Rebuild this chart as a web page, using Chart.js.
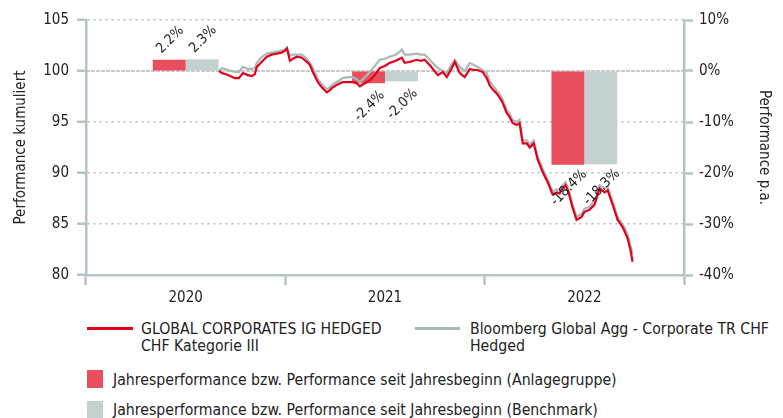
<!DOCTYPE html>
<html>
<head>
<meta charset="utf-8">
<script src="https://cdn.jsdelivr.net/npm/chart.js@4.4.1/dist/chart.umd.min.js"></script>
<style>
  body { margin: 0; background: #fff; font-family: 'DejaVu Sans Condensed', 'Liberation Sans', Arial, sans-serif; color: #222; }
  #wrap { position: relative; width: 783px; height: 418px; overflow: hidden; }
  #chart { position: absolute; left: 0; top: 0; }
  .sw-line { position: absolute; height: 3px; }
  .sw-box { position: absolute; width: 16px; height: 18px; }
  .txt { position: absolute; font-size: 15.7px; line-height: 17px; white-space: nowrap; }
</style>
</head>
<body>
<div id="wrap">
  <canvas id="chart" width="783" height="310"></canvas>

  <div class="sw-line" style="left:87px;top:327px;width:46px;background:#e3001b"></div>
  <div class="txt" style="left:141px;top:320px">GLOBAL CORPORATES IG HEDGED<br>CHF Kategorie III</div>
  <div class="sw-line" style="left:415px;top:327px;width:45px;background:#a9b9b9"></div>
  <div class="txt" style="left:470px;top:320px">Bloomberg Global Agg - Corporate TR CHF<br>Hedged</div>

  <div class="sw-box" style="left:87px;top:370px;background:#e94e5e"></div>
  <div class="txt" style="left:113px;top:371px">Jahresperformance bzw. Performance seit Jahresbeginn (Anlagegruppe)</div>
  <div class="sw-box" style="left:87px;top:401px;background:#c3d0d0"></div>
  <div class="txt" style="left:113px;top:401px">Jahresperformance bzw. Performance seit Jahresbeginn (Benchmark)</div>
</div>

<script>
document.addEventListener('DOMContentLoaded', function () {
    // Years (category labels and bar positions)
    const years = ['2020', '2021', '2022'];
    // Annual performance in %
    const fundYearly = [2.2, -2.4, -18.4];
    const benchYearly = [2.3, -2.0, -18.3];

    // Cumulated performance, time as decimal year
    const lineTime = [
        2020.667, 2020.682, 2020.712, 2020.747, 2020.767, 2020.787, 2020.812, 2020.832, 2020.847, 2020.857,
        2020.882, 2020.907, 2020.932, 2020.957, 2020.982, 2020.998, 2021.008, 2021.023, 2021.038, 2021.058,
        2021.083, 2021.108, 2021.123, 2021.138, 2021.163, 2021.183, 2021.208, 2021.223, 2021.238, 2021.263,
        2021.288, 2021.313, 2021.338, 2021.358, 2021.374, 2021.399, 2021.424, 2021.449, 2021.474, 2021.499,
        2021.524, 2021.554, 2021.574, 2021.584, 2021.599, 2021.624, 2021.659, 2021.679, 2021.699, 2021.724,
        2021.744, 2021.765, 2021.790, 2021.810, 2021.830, 2021.850, 2021.875, 2021.900, 2021.925, 2021.945,
        2021.965, 2021.990, 2022.010, 2022.025, 2022.040, 2022.060, 2022.075, 2022.090, 2022.110, 2022.125,
        2022.140, 2022.160, 2022.175, 2022.191, 2022.211, 2022.226, 2022.246, 2022.266, 2022.291, 2022.316,
        2022.341, 2022.361, 2022.376, 2022.391, 2022.406, 2022.421, 2022.441, 2022.461, 2022.486, 2022.501,
        2022.526, 2022.551, 2022.577, 2022.602, 2022.617, 2022.642, 2022.667, 2022.692, 2022.717, 2022.732,
        2022.742
    ];
    const fundCumulated = [
        100.0, 99.8, 99.6, 99.3, 99.3, 99.8, 99.6, 99.5, 99.7, 100.4,
        100.9, 101.4, 101.6, 101.7, 101.8, 102.0, 102.2, 101.0, 101.2, 101.4,
        101.3, 100.9, 100.6, 99.9, 98.9, 98.4, 97.9, 98.1, 98.4, 98.7,
        98.9, 98.9, 98.9, 98.8, 98.5, 98.8, 99.1, 99.6, 100.3, 100.5,
        100.8, 101.0, 101.2, 101.3, 100.8, 100.9, 101.1, 101.0, 101.1, 100.6,
        100.1, 99.6, 99.9, 99.4, 100.1, 100.9, 99.8, 99.4, 100.2, 100.1,
        100.1, 99.9, 99.3, 98.6, 98.2, 97.8, 97.4, 96.9, 95.9, 95.5,
        94.9, 94.7, 94.9, 92.9, 92.9, 92.5, 92.9, 91.3, 90.1, 89.1,
        87.9, 88.1, 88.0, 88.5, 88.8, 88.1, 86.6, 85.4, 85.7, 86.2,
        86.4, 86.9, 88.5, 88.1, 88.3, 86.9, 85.4, 84.7, 83.6, 82.4,
        81.3
    ];
    const benchCumulated = [
        100.0, 100.3, 100.1, 99.9, 99.9, 100.4, 100.2, 100.2, 100.3, 100.8,
        101.4, 101.7, 101.8, 101.9, 102.0, 102.1, 102.3, 101.5, 101.6, 101.6,
        101.6, 101.2, 100.8, 100.3, 99.2, 98.7, 98.2, 98.4, 98.7, 99.0,
        99.3, 99.4, 99.4, 99.2, 98.9, 99.4, 99.9, 100.5, 101.1, 101.2,
        101.4, 101.6, 101.9, 102.1, 101.6, 101.6, 101.7, 101.6, 101.6, 101.1,
        100.7, 100.3, 100.0, 99.8, 100.5, 101.1, 100.4, 100.0, 100.8, 100.6,
        100.4, 100.1, 99.8, 99.0, 98.6, 98.1, 97.7, 97.2, 96.2, 95.8,
        95.2, 95.0, 95.2, 93.2, 93.2, 92.8, 93.2, 91.6, 90.4, 89.4,
        88.2, 88.4, 88.3, 88.8, 89.1, 88.4, 86.9, 85.7, 86.0, 86.5,
        86.7, 87.3, 88.8, 88.5, 88.6, 87.2, 85.7, 85.0, 84.0, 82.8,
        82.0
    ];

    const axisGrey = '#b3c4c4';
    const gridGrey = '#a9bcbc';
    const fontFamily = "'DejaVu Sans Condensed', 'Liberation Sans', Arial, sans-serif";
    const font = { family: fontFamily, size: 15 };

    const toPoints = (xs, ys) => xs.map((x, i) => ({ x: x, y: ys[i] }));
    // bars sit in the middle of their year on the shared time axis
    const yearPoints = vals => years.map((y, i) => ({ x: Number(y) + 0.5, y: vals[i] }));

    // solid-ish line at 100 / 0%
    const baseLine = {
        id: 'baseLine',
        beforeDatasetsDraw(chart) {
            const { ctx, chartArea, scales } = chart;
            const y = scales.y.getPixelForValue(100);
            ctx.save();
            ctx.strokeStyle = '#b9b9b9';
            ctx.lineWidth = 1.5;
            ctx.setLineDash([4, 1]);
            ctx.beginPath();
            ctx.moveTo(chartArea.left, y);
            ctx.lineTo(chartArea.right, y);
            ctx.stroke();
            ctx.restore();
        }
    };

    // rotated value labels at the bars
    const barLabels = {
        id: 'barLabels',
        afterDatasetsDraw(chart) {
            const ctx = chart.ctx;
            [0, 1].forEach(function (di) {
                const ds = chart.data.datasets[di];
                chart.getDatasetMeta(di).data.forEach(function (bar, j) {
                    const v = ds.data[j].y;
                    const cy = v >= 0 ? bar.y - 20 : bar.y + 23;
                    ctx.save();
                    ctx.translate(bar.x + 1, cy);
                    ctx.rotate(-Math.PI / 4);
                    ctx.font = '14px ' + fontFamily;
                    ctx.fillStyle = '#222';
                    ctx.textAlign = 'center';
                    ctx.textBaseline = 'middle';
                    ctx.fillText(v.toFixed(1) + '%', 0, 0);
                    ctx.restore();
                });
            });
        }
    };

    new Chart(document.getElementById('chart'), {
        type: 'bar',
        data: {
            labels: years,
            datasets: [{
                type: 'bar',
                label: 'Jahresperformance bzw. Performance seit Jahresbeginn (Anlagegruppe)',
                data: yearPoints(fundYearly),
                backgroundColor: '#e94e5e',
                xAxisID: 'x',
                yAxisID: 'y1',
                categoryPercentage: 0.33,
                barPercentage: 1.0,
                order: 3
            }, {
                type: 'bar',
                label: 'Jahresperformance bzw. Performance seit Jahresbeginn (Benchmark)',
                data: yearPoints(benchYearly),
                backgroundColor: '#c3d0d0',
                xAxisID: 'x',
                yAxisID: 'y1',
                categoryPercentage: 0.33,
                barPercentage: 1.0,
                order: 3
            }, {
                type: 'line',
                label: 'Bloomberg Global Agg - Corporate TR CHF Hedged',
                data: toPoints(lineTime, benchCumulated),
                borderColor: '#a9b9b9',
                borderWidth: 2.2,
                pointRadius: 0,
                tension: 0,
                xAxisID: 'x',
                yAxisID: 'y',
                order: 2
            }, {
                type: 'line',
                label: 'GLOBAL CORPORATES IG HEDGED CHF Kategorie III',
                data: toPoints(lineTime, fundCumulated),
                borderColor: '#e3001b',
                borderWidth: 2.2,
                pointRadius: 0,
                tension: 0,
                xAxisID: 'x',
                yAxisID: 'y',
                order: 1
            }]
        },
        options: {
            indexAxis: 'x',
            responsive: false,
            animation: false,
            layout: { padding: { top: 20, left: 0, right: 0, bottom: 0 } },
            plugins: {
                legend: { display: false },
                tooltip: { enabled: false }
            },
            scales: {
                // shared time axis for bars and lines (hidden)
                x: {
                    type: 'linear',
                    min: 2020,
                    max: 2023,
                    offset: false,
                    display: false,
                    ticks: { stepSize: 1 }
                },
                // visible year axis
                xc: {
                    type: 'category',
                    position: 'bottom',
                    offset: true,
                    afterFit: s => { s.height = 35; },
                    grid: { offset: true, drawOnChartArea: false, color: axisGrey, tickLength: 10, tickWidth: 2.5 },
                    border: { display: true, color: axisGrey, width: 2.5 },
                    ticks: { color: '#222', font: font, padding: 4 }
                },
                y: {
                    position: 'left',
                    min: 80,
                    max: 105,
                    afterFit: s => { s.width = 86; },
                    ticks: { stepSize: 5, color: '#222', font: font, padding: 8 },
                    grid: {
                        color: c => (c.tick && c.tick.value === 100) ? 'rgba(0,0,0,0)' : gridGrey,
                        lineWidth: 1.5,
                        tickColor: axisGrey,
                        tickLength: 9,
                        tickWidth: 2.5
                    },
                    border: { display: true, color: axisGrey, width: 2.5, dash: [2, 4] },
                    title: { display: true, text: 'Performance kumuliert', color: '#222', font: font, padding: { top: 12, bottom: 0 } }
                },
                y1: {
                    position: 'right',
                    min: -40,
                    max: 10,
                    afterFit: s => { s.width = 99; },
                    ticks: { stepSize: 10, color: '#222', font: font, padding: 6, callback: v => v + '%' },
                    grid: { drawOnChartArea: false, color: axisGrey, tickLength: 9, tickWidth: 2.5 },
                    border: { display: true, color: axisGrey, width: 2.5 },
                    title: { display: true, text: 'Performance p.a.', color: '#222', font: font, padding: { top: 10, bottom: 0 } }
                }
            }
        },
        plugins: [baseLine, barLabels]
    });
});
</script>
</body>
</html>
